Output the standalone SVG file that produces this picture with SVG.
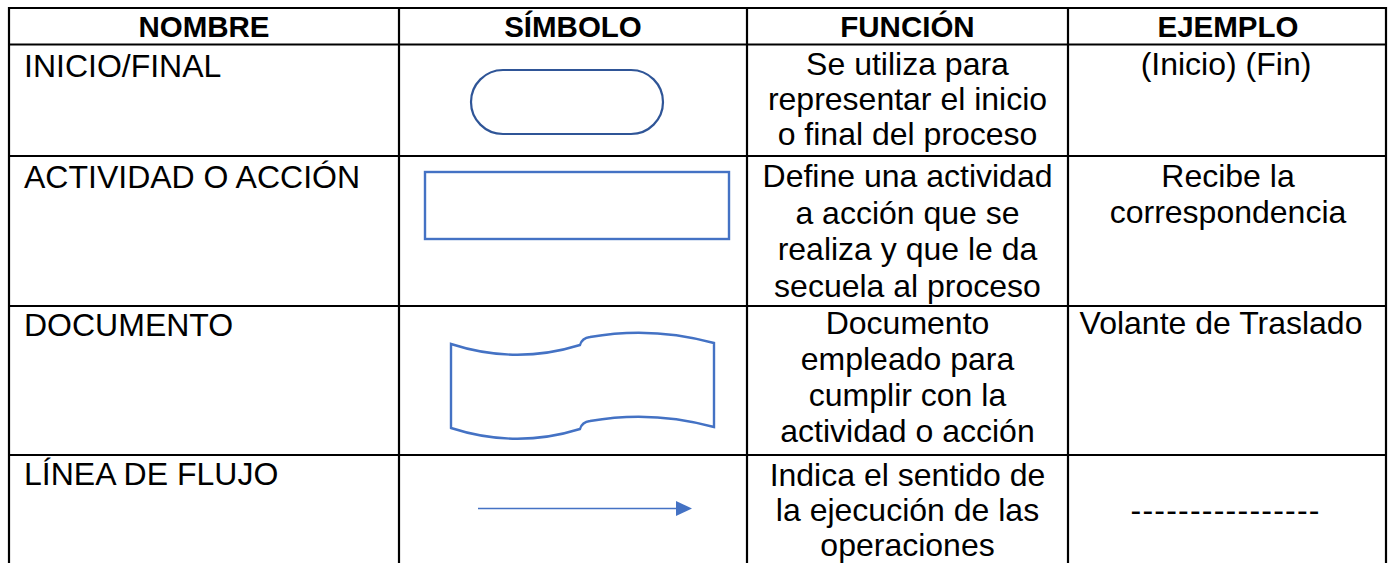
<svg xmlns="http://www.w3.org/2000/svg" width="1393" height="563" viewBox="0 0 1393 563">
<style>
.grid{stroke:#000;stroke-width:2.2;fill:none}
.h{font-family:"Liberation Sans",Arial,sans-serif;font-weight:bold;font-size:29.5px;fill:#000;text-anchor:middle}
.t{font-family:"Liberation Sans",Arial,sans-serif;font-size:32px;fill:#000}
.c{text-anchor:middle}
.sym{fill:none;stroke:#4472C4;stroke-width:2.4}
</style>
<defs>
<marker id="arr" markerWidth="16" markerHeight="15" refX="0" refY="7.5" orient="auto" markerUnits="userSpaceOnUse">
<path d="M0,0 L16,7.5 L0,15 Z" fill="#4472C4"/>
</marker>
</defs>
<rect width="1393" height="563" fill="#fff"/>
<g id="grid">
<path class="grid" d="M9,563 V8 H1386 V563 M399,8 V563 M747,8 V563 M1068,8 V563 M9,44.5 H1386 M9,156 H1386 M9,306 H1386 M9,455 H1386"/>
</g>
<g id="header">
<text class="h" x="204" y="37">NOMBRE</text>
<text class="h" x="573" y="37">SÍMBOLO</text>
<text class="h" x="907.5" y="37">FUNCIÓN</text>
<text class="h" x="1228" y="37">EJEMPLO</text>
</g>
<g id="row-inicio">
<text class="t" x="24" y="77">INICIO/FINAL</text>
<rect x="471" y="70" width="192" height="64" rx="32" fill="none" stroke="#2F5597" stroke-width="2.2"/>
<text class="t c" x="907.5" y="75">Se utiliza para</text>
<text class="t c" x="907.5" y="110">representar el inicio</text>
<text class="t c" x="907.5" y="145">o final del proceso</text>
<text class="t c" x="1226" y="75">(Inicio) (Fin)</text>
</g>
<g id="row-actividad">
<text class="t" x="24" y="188">ACTIVIDAD O ACCIÓN</text>
<rect class="sym" x="425" y="172" width="304" height="67"/>
<text class="t c" x="907.5" y="187">Define una actividad</text>
<text class="t c" x="907.5" y="224">a acción que se</text>
<text class="t c" x="907.5" y="260">realiza y que le da</text>
<text class="t c" x="907.5" y="297">secuela al proceso</text>
<text class="t c" x="1228" y="187">Recibe la</text>
<text class="t c" x="1228" y="223">correspondencia</text>
</g>
<g id="row-documento">
<text class="t" x="24" y="336">DOCUMENTO</text>
<path class="sym" d="M451,344 Q516,365 580,345 Q582,338 590,337 Q652,326 714,343 L714,427 Q652,410 590,421 Q582,422 580,429 Q516,449 451,428 Z"/>
<text class="t c" x="907.5" y="334">Documento</text>
<text class="t c" x="907.5" y="370">empleado para</text>
<text class="t c" x="907.5" y="406">cumplir con la</text>
<text class="t c" x="907.5" y="442">actividad o acción</text>
<text class="t c" x="1221" y="334">Volante de Traslado</text>
</g>
<g id="row-flujo">
<text class="t" x="24" y="485">LÍNEA DE FLUJO</text>
<text class="t c" x="907.5" y="486">Indica el sentido de</text>
<text class="t c" x="907.5" y="521">la ejecución de las</text>
<text class="t c" x="907.5" y="556">operaciones</text>
<text class="t c" x="1225" y="521" textLength="189" lengthAdjust="spacing">----------------</text>
</g>
<g id="connectors">
<line x1="478" y1="508.5" x2="676" y2="508.5" stroke="#4472C4" stroke-width="1.4" marker-end="url(#arr)"/>
</g>
</svg>
